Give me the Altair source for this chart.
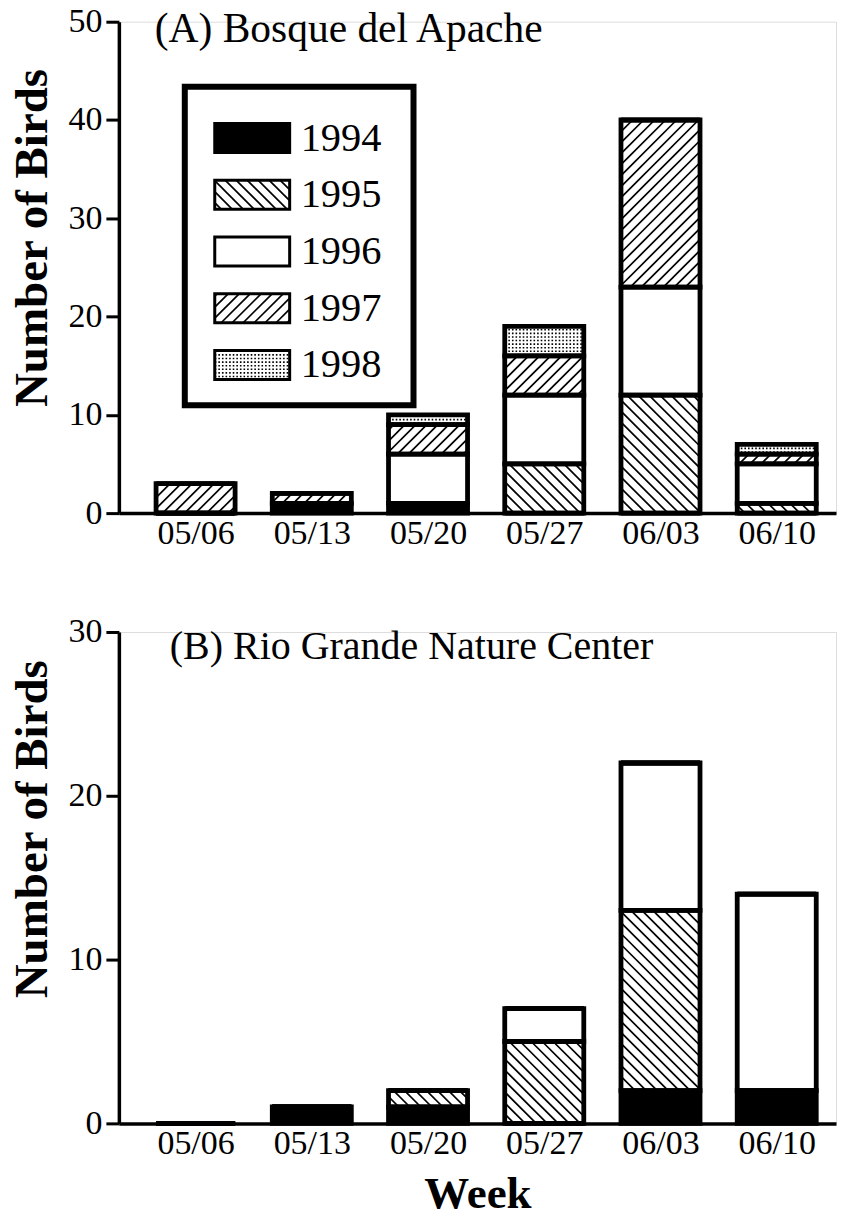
import json
import altair as alt
import pandas as pd

# ---------------- data ----------------
WEEKS = ["05/06", "05/13", "05/20", "05/27", "06/03", "06/10"]
YEARS = ["1994", "1995", "1996", "1997", "1998"]

# (A) Bosque del Apache
A_1994 = [0, 1, 1, 0, 0, 0]
A_1995 = [0, 0, 0, 5, 12, 1]
A_1996 = [0, 0, 5, 7, 11, 4]
A_1997 = [3, 1, 3, 4, 17, 1]
A_1998 = [0, 0, 1, 3, 0, 1]

# (B) Rio Grande Nature Center
B_1994 = [0, 1, 1, 0, 2, 2]
B_1995 = [0, 0, 1, 5, 11, 0]
B_1996 = [0, 0, 0, 2, 9, 12]
B_1997 = [0, 0, 0, 0, 0, 0]
B_1998 = [0, 0, 0, 0, 0, 0]

TITLE_A = "(A) Bosque del Apache"
TITLE_B = "(B)  Rio Grande Nature Center"

# ---------------- styling / layout ----------------
FONT = "Liberation Serif"
PATTERN = {"1994": "solid", "1995": "back", "1996": "none", "1997": "fwd", "1998": "dots"}
FILL = {"1994": "black", "1995": "white", "1996": "white", "1997": "white", "1998": "white"}

W, H = 718, 492
X_MIN, X_MAX = -0.66, 5.51
SX = W / (X_MAX - X_MIN)        # px per x unit
HALF = 0.34                     # half bar width (x units)
SP = 11.0                       # hatch spacing (px)
DSP = 3.6                       # dot row spacing (px)
OUTLINE = 4.8

xscale = alt.Scale(domain=[X_MIN, X_MAX], nice=False, zero=False)


def long_table(counts):
    rows = []
    for y in YEARS:
        for i, w in enumerate(WEEKS):
            rows.append({"wi": i, "week": w, "year": y, "count": counts[y][i], "pat": PATTERN[y]})
    return pd.DataFrame(rows)


def hatch_layers(base, SY, xaxis, yscale, yaxis):
    b = base.transform_calculate(
        u0=f"datum.x0*{SX}", u1=f"datum.x1*{SX}",
        v0=f"datum.y0*{SY}", v1=f"datum.y1*{SY}")
    fwd = (b.transform_filter("datum.pat == 'fwd'")
           .transform_calculate(ks=f"sequence(ceil((datum.u0-datum.v1)/{SP}), floor((datum.u1-datum.v0)/{SP})+1)")
           .transform_flatten(["ks"])
           .transform_calculate(c=f"datum.ks*{SP}")
           .transform_calculate(us="max(datum.u0, datum.v0+datum.c)", ue="min(datum.u1, datum.v1+datum.c)")
           .transform_filter("datum.ue > datum.us + 0.5")
           .transform_calculate(hx=f"datum.us/{SX}", hx2=f"datum.ue/{SX}",
                                hy=f"(datum.us-datum.c)/{SY}", hy2=f"(datum.ue-datum.c)/{SY}"))
    back = (b.transform_filter("datum.pat == 'back'")
            .transform_calculate(ks=f"sequence(ceil((datum.u0+datum.v0)/{SP}), floor((datum.u1+datum.v1)/{SP})+1)")
            .transform_flatten(["ks"])
            .transform_calculate(c=f"datum.ks*{SP}")
            .transform_calculate(us="max(datum.u0, datum.c-datum.v1)", ue="min(datum.u1, datum.c-datum.v0)")
            .transform_filter("datum.ue > datum.us + 0.5")
            .transform_calculate(hx=f"datum.us/{SX}", hx2=f"datum.ue/{SX}",
                                 hy=f"(datum.c-datum.us)/{SY}", hy2=f"(datum.c-datum.ue)/{SY}"))
    dots = (b.transform_filter("datum.pat == 'dots'")
            .transform_calculate(ks=f"sequence(ceil(datum.v0/{DSP}), floor(datum.v1/{DSP})+1)")
            .transform_flatten(["ks"])
            .transform_calculate(hx="datum.x0", hx2="datum.x1",
                                 hy=f"datum.ks*{DSP}/{SY}", hy2=f"datum.ks*{DSP}/{SY}"))
    pos = dict(x=alt.X("hx:Q", scale=xscale, axis=xaxis), x2="hx2:Q",
               y=alt.Y("hy:Q", scale=yscale, axis=yaxis), y2="hy2:Q")
    lines = []
    for d in (fwd, back):
        lines.append(d.mark_rule(stroke="black", strokeWidth=1.7).encode(**pos))
    lines.append(dots.mark_rule(stroke="black", strokeWidth=1.6, strokeDash=[1.6, 2.0]).encode(**pos))
    return lines


def rect_layers(base, SY, xaxis, yscale, yaxis, outline):
    fill_scale = alt.Scale(domain=YEARS, range=[FILL[y] for y in YEARS])
    pos = dict(x=alt.X("x0:Q", scale=xscale, axis=xaxis), x2="x1:Q",
               y=alt.Y("y0:Q", scale=yscale, axis=yaxis), y2="y1:Q")
    fill = base.mark_rect(strokeWidth=0).encode(
        fill=alt.Fill("year:N", scale=fill_scale, legend=None), **pos)
    hatch = hatch_layers(base, SY, xaxis, yscale, yaxis)
    edge = base.mark_rect(fillOpacity=0, stroke="black", strokeWidth=outline).encode(**pos)
    return [fill] + hatch + [edge]


def panel(counts, ymax, title, title_xy, title_size, ytitle_y, xtitle, with_legend):
    SY = H / ymax
    yscale = alt.Scale(domain=[0, ymax], nice=False, zero=True)
    label_expr = json.dumps(WEEKS) + "[datum.value]"
    xkw = dict(values=list(range(len(WEEKS))), labelExpr=label_expr, ticks=False, tickSize=0,
               grid=False, labelFontSize=34, labelPadding=3.5, labelFont=FONT, labelColor="black",
               domainWidth=3.5, domainColor="black")
    if xtitle:
        xaxis = alt.Axis(title=xtitle, titleFontSize=45, titleFont=FONT, titleFontWeight="bold",
                         titleColor="black", titlePadding=11, **xkw)
    else:
        xaxis = alt.Axis(title=None, **xkw)
    yaxis = alt.Axis(values=list(range(0, ymax + 1, 10)), format="d", grid=False,
                     tickSize=13, tickWidth=3, tickColor="black",
                     domainWidth=3.5, domainColor="black",
                     labelFontSize=34, labelPadding=4, labelFont=FONT, labelColor="black",
                     title="Number of Birds", titleFontSize=47, titleFont=FONT,
                     titleFontWeight="bold", titleColor="black", titlePadding=11,
                     titleY=ytitle_y)

    df = long_table(counts)
    seg = (alt.Chart(df)
           .transform_stack(stack="count", groupby=["wi"], as_=["y0", "y1"],
                            sort=[alt.SortField("year", order="ascending")])
           .transform_calculate(x0=f"datum.wi - {HALF}", x1=f"datum.wi + {HALF}"))
    layers = rect_layers(seg, SY, xaxis, yscale, yaxis, OUTLINE)

    if with_legend:
        # legend layout in plot pixels, converted to data units
        box = alt.Chart(pd.DataFrame({"k": [0]})).mark_rect(
            fill="white", stroke="black", strokeWidth=6).encode(
            x=alt.value(66), x2=alt.value(295), y=alt.value(65), y2=alt.value(384))
        layers.insert(0, box)
        lrows = []
        for i, y in enumerate(YEARS):
            top = 102 + 56.8 * i
            lrows.append({"year": y, "pat": PATTERN[y],
                          "x0": X_MIN + 96 / SX, "x1": X_MIN + 171 / SX,
                          "y0": ymax - (top + 29) / SY, "y1": ymax - top / SY,
                          "lx": X_MIN + 182 / SX, "ly": ymax - (top + 15) / SY})
        ldf = pd.DataFrame(lrows)
        layers += rect_layers(alt.Chart(ldf), SY, xaxis, yscale, yaxis, 3)
        layers.append(alt.Chart(ldf).mark_text(align="left", baseline="middle", fontSize=40.5,
                                               font=FONT, color="black").encode(
            x=alt.X("lx:Q", scale=xscale, axis=xaxis),
            y=alt.Y("ly:Q", scale=yscale, axis=yaxis), text="year:N"))

    ttl = alt.Chart(pd.DataFrame({"t": [title]})).mark_text(
        align="left", baseline="alphabetic", fontSize=title_size, font=FONT, color="black").encode(
        x=alt.value(title_xy[0]), y=alt.value(title_xy[1]), text="t:N")
    layers.append(ttl)
    return alt.layer(*layers).properties(width=W, height=H)


A = {"1994": A_1994, "1995": A_1995, "1996": A_1996, "1997": A_1997, "1998": A_1998}
B = {"1994": B_1994, "1995": B_1995, "1996": B_1996, "1997": B_1997, "1998": B_1998}

chart = alt.vconcat(
    panel(A, 50, TITLE_A, (36, 20), 41.5, 216, None, True),
    panel(B, 30, TITLE_B, (51, 27), 40, 197, "Week", False),
    spacing=63,
).properties(
    padding={"left": 0, "top": -5, "right": 0, "bottom": -8}
).configure_view(stroke=None).configure_axis(
    labelFont=FONT, titleFont=FONT
).configure_text(font=FONT).configure(font=FONT, background="white")

chart.save("out.html", embed_options={"renderer": "svg", "actions": False})
